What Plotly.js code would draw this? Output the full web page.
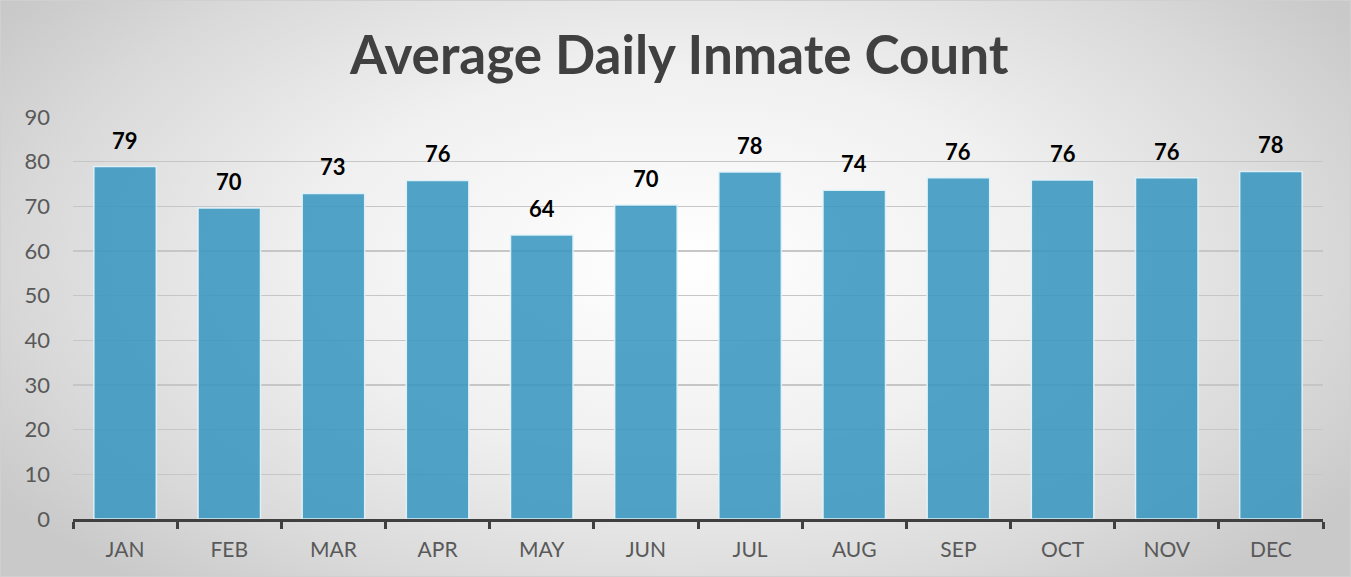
<!DOCTYPE html>
<html>
<head>
<meta charset="utf-8">
<script src="https://cdn.plot.ly/plotly-3.0.1.min.js"></script>
<style>
html, body { margin: 0; padding: 0; }
body {
  width: 1351px; height: 577px; overflow: hidden;
  background: radial-gradient(ellipse 60% 75% at 50% 45%, #ffffff 0%, #f0f0f0 45%, #d9d9d9 80%, #c9c9c9 100%);
}
#chart { width: 1351px; height: 577px; box-sizing: border-box; border: 1px solid #d0d0d0; }
</style>
</head>
<body>
<div id="chart"></div>
<script>
const months = ["JAN","FEB","MAR","APR","MAY","JUN","JUL","AUG","SEP","OCT","NOV","DEC"];
const counts = [78.9, 69.6, 72.9, 75.8, 63.6, 70.3, 77.7, 73.6, 76.4, 75.9, 76.4, 77.8];
const labels = ["79","70","73","76","64","70","78","74","76","76","76","78"];

const trace = {
  type: "bar",
  x: months,
  y: counts,
  marker: { color: "rgba(58,150,192,0.88)", line: { color: "rgba(225,242,248,0.95)", width: 1.5 } },
  hoverinfo: "skip"
};

const annotations = months.map((m, i) => ({
  x: m, y: counts[i], text: labels[i], showarrow: false,
  yanchor: "bottom", yshift: 11,
  font: { family: "Lato, 'DejaVu Sans', sans-serif", size: 22, color: "#000000", weight: 700 }
}));

const layout = {
  width: 1351, height: 577,
  paper_bgcolor: "rgba(0,0,0,0)", plot_bgcolor: "rgba(0,0,0,0)",
  margin: { l: 72, r: 29, t: 116, b: 59 },
  bargap: 0.4,
  showlegend: false,
  title: {
    text: "<b>Average Daily Inmate Count</b>",
    x: 0.502, xanchor: "center", xref: "container",
    y: 0.905, yref: "container", yanchor: "middle",
    font: { family: "Lato, 'DejaVu Sans', sans-serif", size: 53, color: "#404040" }
  },
  xaxis: {
    type: "category",
    showline: true, linecolor: "#404040", linewidth: 3,
    ticks: "outside", tickson: "boundaries", ticklen: 7, tickwidth: 3, tickcolor: "#404040",
    ticklabelstandoff: 10,
    tickfont: { family: "Lato, sans-serif", size: 21, color: "#595959" },
    showgrid: false
  },
  yaxis: {
    range: [0, 90], dtick: 10, tick0: 0,
    showgrid: true, gridcolor: "#c6c6c6", gridwidth: 1.5,
    showline: false, zeroline: false, ticks: "",
    ticklabelstandoff: 22,
    tickfont: { family: "Lato, sans-serif", size: 22, color: "#595959" }
  },
  annotations: annotations
};

Plotly.newPlot("chart", [trace], layout, { displayModeBar: false, staticPlot: true });
</script>
</body>
</html>
